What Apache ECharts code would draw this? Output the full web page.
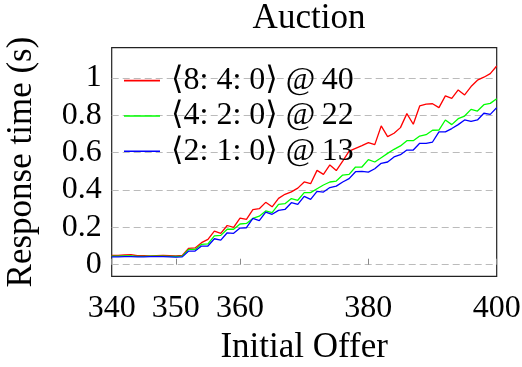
<!DOCTYPE html>
<html>
<head>
<meta charset="utf-8">
<script src="https://cdn.jsdelivr.net/npm/echarts@6/dist/echarts.min.js"></script>
<style>
html,body{margin:0;padding:0;background:#fff;}
#chart{width:522px;height:367px;}
</style>
</head>
<body>
<div id="chart"></div>
<script>
const offers = [340,341,342,343,344,345,346,347,348,349,350,351,352,353,354,355,356,357,358,359,360,361,362,363,364,365,366,367,368,369,370,371,372,373,374,375,376,377,378,379,380,381,382,383,384,385,386,387,388,389,390,391,392,393,394,395,396,397,398,399,400];
const seriesNames = ['\u27E88: 4: 0\u27E9 @\u200940', '\u27E84: 2: 0\u27E9 @\u200922', '\u27E82: 1: 0\u27E9 @\u200913'];
const red = [0.050,0.050,0.052,0.054,0.048,0.049,0.047,0.049,0.050,0.049,0.047,0.050,0.088,0.090,0.118,0.136,0.180,0.168,0.210,0.200,0.250,0.243,0.295,0.300,0.334,0.310,0.355,0.377,0.390,0.410,0.443,0.434,0.505,0.484,0.534,0.504,0.555,0.608,0.623,0.638,0.654,0.643,0.743,0.686,0.704,0.734,0.809,0.752,0.850,0.860,0.862,0.841,0.904,0.891,0.936,0.909,0.954,0.988,1.004,1.023,1.064];
const green = [0.046,0.046,0.047,0.047,0.045,0.045,0.046,0.046,0.046,0.045,0.044,0.046,0.082,0.082,0.109,0.112,0.154,0.157,0.190,0.190,0.218,0.221,0.248,0.260,0.288,0.279,0.323,0.327,0.354,0.345,0.386,0.386,0.407,0.427,0.443,0.448,0.480,0.484,0.523,0.523,0.563,0.550,0.573,0.596,0.618,0.636,0.664,0.664,0.689,0.696,0.720,0.721,0.775,0.750,0.782,0.796,0.832,0.823,0.857,0.864,0.889];
const blue = [0.042,0.042,0.043,0.043,0.042,0.042,0.043,0.043,0.043,0.042,0.041,0.042,0.073,0.073,0.100,0.100,0.139,0.132,0.171,0.168,0.196,0.198,0.248,0.236,0.282,0.270,0.291,0.296,0.332,0.323,0.366,0.350,0.393,0.389,0.413,0.421,0.443,0.461,0.498,0.500,0.496,0.514,0.543,0.550,0.577,0.589,0.614,0.614,0.650,0.650,0.657,0.711,0.711,0.729,0.750,0.775,0.768,0.775,0.811,0.805,0.841];
const xTicks = [340,350,360,380,400];
const yTicks = [0,0.2,0.4,0.6,0.8,1];
const colors = ['#ff0000','#00ff00','#0000ff'];
const values = [red, green, blue];

const FONT = '"Liberation Serif", "DejaVu Serif", serif';
const chart = echarts.init(document.getElementById('chart'), null, {renderer:'canvas'});
const series = values.map((vals, i) => ({
  name: seriesNames[i],
  type: 'line',
  data: offers.map((x, j) => [x, vals[j]]),
  symbol: 'none',
  showSymbol: false,
  lineStyle: {color: colors[i], width: 1.3},
  itemStyle: {color: colors[i]},
  animation: false
}));
chart.setOption({
  animation: false,
  backgroundColor: '#fff',
  title: {
    text: 'Auction',
    left: 304,
    textAlign: 'center',
    top: -4,
    textStyle: {fontFamily: FONT, fontSize: 35, fontWeight: 'normal', color: '#000'}
  },
  legend: {
    left: 119,
    top: 58,
    orient: 'vertical',
    icon: 'rect',
    itemWidth: 36,
    itemHeight: 1.6,
    itemGap: 0,
    data: seriesNames,
    textStyle: {fontFamily: FONT, fontSize: 32, color: '#000', padding: [0,0,0,6], lineHeight: 35.3},
    backgroundColor: 'transparent'
  },
  grid: {
    left: 111.7, right: 25.3, top: 47.7, bottom: 90.7,
    outerBoundsMode: 'none', containLabel: false,
    show: true, borderColor: '#222', borderWidth: 1.2, backgroundColor: 'transparent'
  },
  xAxis: {
    type: 'value',
    min: 340, max: 400,
    name: 'Initial Offer',
    nameLocation: 'middle',
    nameGap: 54,
    nameTextStyle: {fontFamily: FONT, fontSize: 35, color: '#000'},
    axisLine: {show: false},
    axisTick: {show: true, inside: true, length: 6, customValues: xTicks, lineStyle: {color: '#888', width: 1}},
    axisLabel: {customValues: xTicks, fontFamily: FONT, fontSize: 32, color: '#000', margin: 16},
    splitLine: {show: false}
  },
  yAxis: {
    type: 'value',
    min: -0.062, max: 1.162,
    name: 'Response time (s)',
    nameLocation: 'middle',
    nameGap: 72,
    nameRotate: 90,
    nameTextStyle: {fontFamily: FONT, fontSize: 35, color: '#000'},
    axisLine: {show: false},
    axisTick: {show: false, customValues: yTicks},
    axisLabel: {customValues: yTicks, fontFamily: FONT, fontSize: 32, color: '#000', margin: 10,
      formatter: v => String(Math.round(v * 10) / 10)},
    splitLine: {show: true, lineStyle: {color: '#bbb', type: [7, 4], width: 1}}
  },
  series: series
});
</script>
</body>
</html>
